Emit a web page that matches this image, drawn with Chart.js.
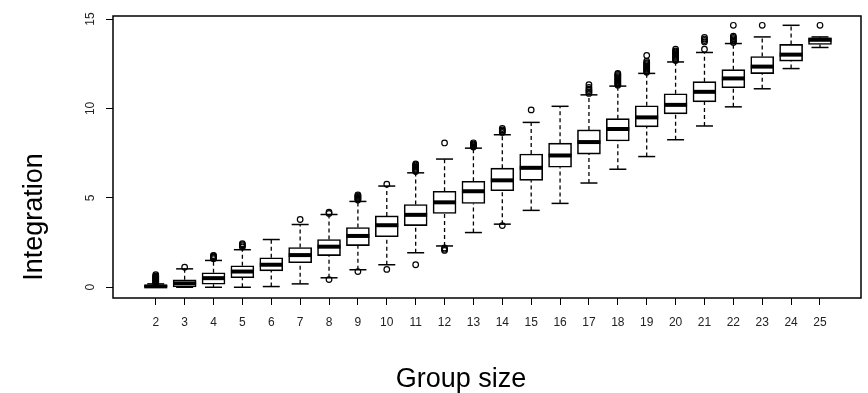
<!DOCTYPE html>
<html>
<head>
<meta charset="utf-8">
<script src="https://cdn.jsdelivr.net/npm/chart.js@4"></script>
<style>
  html, body { margin: 0; padding: 0; background: #fff; }
  canvas { display: block; }
</style>
</head>
<body>
<canvas id="boxChart" width="868" height="393"></canvas>
<script>
// ── DATA ────────────────────────────────────────────────────
const GROUPS  = [2, 3, 4, 5, 6, 7, 8, 9, 10, 11, 12, 13, 14, 15, 16, 17, 18, 19, 20, 21, 22, 23, 24, 25];
const LOWER   = [0, 0, 0, 0, 0.04, 0.19, 0.53, 0.98, 1.26, 1.93, 2.31, 3.06, 3.53, 4.3, 4.69, 5.83, 6.6, 7.31, 8.25, 9.02, 10.09, 11.1, 12.23, 13.41];
const Q1      = [0.01, 0.02, 0.17, 0.53, 0.92, 1.37, 1.77, 2.33, 2.83, 3.45, 4.13, 4.69, 5.4, 5.98, 6.71, 7.45, 8.18, 8.97, 9.7, 10.37, 11.16, 11.95, 12.65, 13.58];
const MEDIAN  = [0.05, 0.22, 0.51, 0.88, 1.26, 1.8, 2.27, 2.87, 3.47, 4.05, 4.75, 5.37, 5.98, 6.68, 7.37, 8.12, 8.85, 9.5, 10.2, 10.93, 11.68, 12.34, 13.01, 13.84];
const Q3      = [0.1, 0.42, 0.81, 1.2, 1.65, 2.22, 2.67, 3.34, 3.99, 4.63, 5.37, 5.93, 6.66, 7.45, 8.06, 8.8, 9.43, 10.15, 10.82, 11.5, 12.17, 12.9, 13.58, 13.95];
const UPPER   = [0.19, 1.03, 1.5, 2.1, 2.67, 3.51, 4.07, 4.8, 5.66, 6.4, 7.17, 7.78, 8.53, 9.22, 10.12, 10.76, 11.25, 11.96, 12.6, 13.13, 13.63, 14.0, 14.65, 14.0];
const OUTLIERS = [
  [0.24, 0.28, 0.32, 0.36, 0.4, 0.44, 0.48, 0.52, 0.56, 0.6, 0.64, 0.7],
  [1.12],
  [1.6, 1.65, 1.7, 1.75, 1.78],
  [2.25, 2.32, 2.38, 2.44],
  [],
  [3.79],
  [4.13, 4.2, 0.43],
  [4.88, 4.93, 4.98, 5.03, 5.08, 5.13, 5.17, 0.88],
  [5.76, 1.0],
  [6.47, 6.53, 6.6, 6.66, 6.72, 6.78, 6.84, 6.9, 1.26],
  [8.07, 2.06, 2.12, 2.2],
  [7.84, 7.9, 7.96, 8.02, 8.08],
  [8.66, 8.73, 8.8, 8.88, 3.45],
  [9.92],
  [],
  [10.84, 10.92, 11.0, 11.08, 11.18, 11.33],
  [11.3, 11.36, 11.42, 11.48, 11.54, 11.6, 11.66, 11.72, 11.78, 11.84, 11.9, 11.96],
  [12.02, 12.08, 12.14, 12.2, 12.26, 12.32, 12.38, 12.44, 12.5, 12.56, 12.64, 12.96],
  [12.68, 12.74, 12.8, 12.86, 12.92, 12.98, 13.04, 13.1, 13.16, 13.22, 13.31],
  [13.31, 13.72, 13.8, 13.88, 13.97],
  [13.69, 13.76, 13.83, 13.9, 13.97, 14.04, 14.65],
  [14.65],
  [],
  [14.65],
];
const Y_TICKS = [0, 5, 10, 15];
const X_TITLE = "Group size";
const Y_TITLE = "Integration";

const FONT = "'Liberation Sans', Arial, sans-serif";

// ── DATASETS BUILT FROM THE ARRAYS ──────────────────────────
const boxData    = GROUPS.map((g, i) => ({ x: g, y: [Q1[i], Q3[i]] }));
const medianData = GROUPS.map((g, i) => ({ x: g, y: MEDIAN[i] }));
const capData    = GROUPS.flatMap((g, i) => [{ x: g, y: LOWER[i] }, { x: g, y: UPPER[i] }]);
const whiskerData = GROUPS.flatMap((g, i) => [
  { x: g, y: Q3[i] }, { x: g, y: UPPER[i] }, { x: g, y: null },
  { x: g, y: LOWER[i] }, { x: g, y: Q1[i] }, { x: g, y: null },
]);
const outlierData = GROUPS.flatMap((g, i) => OUTLIERS[i].map(v => ({ x: g, y: v })));

// frame round the plot + the two axis titles
const framePlugin = {
  id: "frame",
  afterDraw(chart) {
    const { ctx, chartArea: a } = chart;
    ctx.save();
    ctx.strokeStyle = "#000";
    ctx.lineWidth = 1.5;
    ctx.strokeRect(a.left, a.top, a.right - a.left, a.bottom - a.top);

    ctx.fillStyle = "#000";
    ctx.font = `27px ${FONT}`;
    ctx.textAlign = "center";
    ctx.textBaseline = "alphabetic";
    ctx.fillText(X_TITLE, 461, 387);

    ctx.translate(42, 217);
    ctx.rotate(-Math.PI / 2);
    ctx.fillText(Y_TITLE, 0, 0);
    ctx.restore();
  },
};

new Chart(document.getElementById("boxChart"), {
  type: "scatter",
  data: {
    datasets: [
      {
        type: "line",
        data: whiskerData,
        borderColor: "#000",
        borderWidth: 1.3,
        borderDash: [4, 3],
        pointRadius: 0,
        spanGaps: false,
        fill: false,
        order: 5,
      },
      {
        type: "bar",
        data: boxData,
        backgroundColor: "#fff",
        borderColor: "#000",
        borderWidth: 1.6,
        borderSkipped: false,
        barThickness: 23,
        order: 4,
      },
      {
        type: "scatter",
        data: medianData,
        pointStyle: "line",
        pointRadius: 11.5,
        borderColor: "#000",
        borderWidth: 4,
        order: 3,
      },
      {
        type: "scatter",
        data: capData,
        pointStyle: "line",
        pointRadius: 8.5,
        borderColor: "#000",
        borderWidth: 1.5,
        order: 2,
      },
      {
        type: "scatter",
        data: outlierData,
        pointStyle: "circle",
        pointRadius: 2.8,
        backgroundColor: "rgba(0,0,0,0)",
        borderColor: "#000",
        borderWidth: 1.2,
        order: 1,
      },
    ],
  },
  options: {
    responsive: false,
    animation: false,
    layout: { autoPadding: false, padding: { top: 16, right: 7, left: 0, bottom: 0 } },
    plugins: {
      legend:  { display: false },
      tooltip: { enabled: false },
    },
    scales: {
      x: {
        type: "linear",
        min: 0.52,
        max: 26.42,
        offset: false,
        afterFit(scale) {
          scale.height = 95;
          scale.paddingLeft = 0;
          scale.paddingRight = 0;
        },
        afterBuildTicks(scale) { scale.ticks = GROUPS.map(v => ({ value: v })); },
        grid:   { display: true, drawOnChartArea: false, tickLength: 7, color: "#000", lineWidth: 1, offset: false },
        border: { display: false },
        ticks:  { font: { size: 12, family: FONT }, color: "#222", padding: 10, autoSkip: false, maxRotation: 0 },
      },
      y: {
        type: "linear",
        min: -0.6,
        max: 15.17,
        afterFit(scale) {
          scale.width = 113;
          scale.paddingTop = 0;
          scale.paddingBottom = 0;
        },
        afterBuildTicks(scale) { scale.ticks = Y_TICKS.map(v => ({ value: v })); },
        grid:   { display: true, drawOnChartArea: false, tickLength: 7, color: "#000", lineWidth: 1 },
        border: { display: false },
        ticks:  { font: { size: 12, family: FONT }, color: "#222", padding: 9, minRotation: 90, maxRotation: 90, crossAlign: "center" },
      },
    },
  },
  plugins: [framePlugin],
});
</script>
</body>
</html>
